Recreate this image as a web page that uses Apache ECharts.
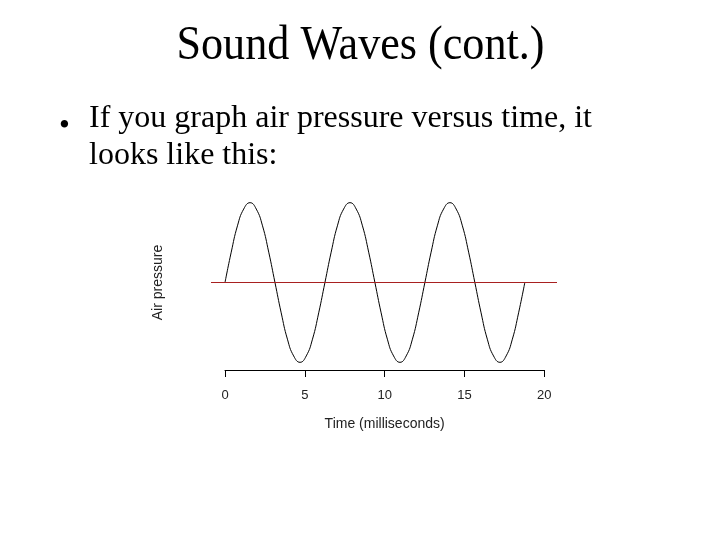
<!DOCTYPE html>
<html>
<head>
<meta charset="utf-8">
<script src="https://cdn.jsdelivr.net/npm/echarts@6.0.0/dist/echarts.min.js"></script>
<style>
  html, body { margin: 0; padding: 0; background: #fff; }
  #chart { width: 720px; height: 540px; }
</style>
</head>
<body>
<div id="chart"></div>
<script>
// Time (ms) and air pressure (relative)
const timeMs = [0, 0.39, 0.78, 1.17, 1.57, 1.96, 2.35, 2.74, 3.13, 3.52, 3.91, 4.30,
                4.70, 5.09, 5.48, 5.87, 6.26, 6.65, 7.04, 7.43, 7.83, 8.22, 8.61, 9.00,
                9.39, 9.78, 10.17, 10.56, 10.96, 11.35, 11.74, 12.13, 12.52, 12.91, 13.30, 13.69,
                14.09, 14.48, 14.87, 15.26, 15.65, 16.04, 16.43, 16.82, 17.22, 17.61, 18.00, 18.39,
                18.78];
const pressure = [0, 0.38, 0.71, 0.92, 1, 0.92, 0.71, 0.38, 0, -0.38, -0.71, -0.92,
                  -1, -0.92, -0.71, -0.38, 0, 0.38, 0.71, 0.92, 1, 0.92, 0.71, 0.38,
                  0, -0.38, -0.71, -0.92, -1, -0.92, -0.71, -0.38, 0, 0.38, 0.71, 0.92,
                  1, 0.92, 0.71, 0.38, 0, -0.38, -0.71, -0.92, -1, -0.92, -0.71, -0.38,
                  0];
// Mean-pressure reference line (spans the plotting region)
const meanLineTime = [-0.88, 20.73];
const meanLineValue = [0, 0];
const xTicks = [0, 5, 10, 15, 20];

const titleText = 'Sound Waves (cont.)';
const bulletLines = ['If you graph air pressure versus time, it', 'looks like this:'];
const xName = 'Time (milliseconds)';
const yName = 'Air pressure';

const chart = echarts.init(document.getElementById('chart'), null, { renderer: 'canvas' });

const serif = '"Liberation Serif", "Times New Roman", serif';
const sans = '"Liberation Sans", Arial, sans-serif';

chart.setOption({
  backgroundColor: '#ffffff',
  animation: false,
  grid: [
    { left: 225, width: 319.3, top: 199.5, height: 166 },
    { left: 211, width: 346, top: 199.5, height: 166 }
  ],
  xAxis: [
    {
      type: 'value', gridIndex: 0, min: xTicks[0], max: xTicks[xTicks.length - 1], interval: 5,
      offset: 4.5,
      name: xName, nameLocation: 'middle', nameGap: 47,
      nameTextStyle: { fontFamily: sans, fontSize: 14, color: '#222' },
      axisLine: { show: true, onZero: false, lineStyle: { color: '#000', width: 1 } },
      axisTick: { show: true, length: 7, lineStyle: { color: '#000', width: 1 } },
      axisLabel: { fontFamily: sans, fontSize: 13, color: '#222', margin: 19 },
      splitLine: { show: false }
    },
    {
      type: 'value', gridIndex: 1, min: meanLineTime[0], max: meanLineTime[1], show: false
    }
  ],
  yAxis: [
    {
      type: 'value', gridIndex: 0, min: -1.04, max: 1.04,
      name: yName, nameLocation: 'middle', nameRotate: 90, nameGap: 60,
      nameTextStyle: { fontFamily: sans, fontSize: 14, color: '#222' },
      axisLine: { show: false }, axisTick: { show: false },
      axisLabel: { show: false }, splitLine: { show: false }
    },
    {
      type: 'value', gridIndex: 1, min: -1.04, max: 1.04, show: false
    }
  ],
  series: [
    {
      type: 'line', xAxisIndex: 0, yAxisIndex: 0,
      data: timeMs.map((t, i) => [t, pressure[i]]),
      smooth: true, symbol: 'none',
      lineStyle: { color: '#000', width: 1 },
      z: 2
    },
    {
      type: 'line', xAxisIndex: 1, yAxisIndex: 1,
      data: meanLineTime.map((t, i) => [t, meanLineValue[i]]),
      symbol: 'none',
      lineStyle: { color: '#a82020', width: 1 },
      z: 3
    }
  ],
  graphic: [
    {
      type: 'text', x: 360.5, y: 46, scaleX: 0.92, originX: 0, originY: 0,
      style: { text: titleText, font: '48px ' + serif, fill: '#000',
               textAlign: 'center', textVerticalAlign: 'middle' }
    },
    {
      type: 'text', x: 59, y: 127,
      style: { text: '\u2022', font: '31px ' + serif, fill: '#000',
               textAlign: 'left', textVerticalAlign: 'middle' }
    },
    {
      type: 'text', x: 89, y: 119,
      style: { text: bulletLines[0], font: '32px ' + serif, fill: '#000',
               textAlign: 'left', textVerticalAlign: 'middle' }
    },
    {
      type: 'text', x: 89, y: 156,
      style: { text: bulletLines[1], font: '32px ' + serif, fill: '#000',
               textAlign: 'left', textVerticalAlign: 'middle' }
    }
  ]
});
</script>
</body>
</html>
